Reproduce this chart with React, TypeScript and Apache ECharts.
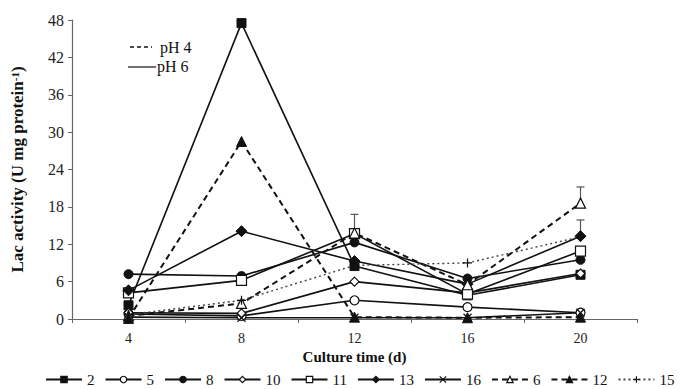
import React, { useEffect, useRef } from "react";
import * as echarts from "echarts";

const days = ["4", "8", "12", "16", "20"];
const yTicks = [0, 6, 12, 18, 24, 30, 36, 42, 48];

const s2 = [2.2, 47.5, 8.5, 3.8, 7.1];
const s5 = [0.8, 0.5, 3.0, 1.9, 1.0];
const s8 = [7.2, 6.9, 12.3, 6.5, 9.5];
const s10 = [1.0, 0.9, 6.0, 4.2, 7.3];
const s11 = [4.2, 6.2, 13.7, 4.0, 10.9];
const s13 = [4.6, 14.1, 9.3, 5.6, 13.3];
const s16 = [0.3, 0.2, 0.2, 0.2, 1.0];
const s6 = [0.5, 2.5, 13.8, 5.5, 18.6];
const s12 = [0.1, 28.5, 0.3, 0.2, 0.3];
const s15 = [0.7, 3.0, 8.6, 9.0, 13.2];

// error bar sizes per category
const err6 = [0, 0, 3.0, 0, 2.6];
const err13 = [0, 0, 0, 0, 2.6];

const FONT = "Liberation Serif";
const BLACK = "#111";

export default function App() {
  const ref = useRef<HTMLDivElement>(null);
  useEffect(() => {
    if (!ref.current) return;
    const chart = echarts.init(ref.current, null, { renderer: "svg" });

    const mk = (
      name: string,
      data: number[],
      symbol: string,
      size: number,
      lineType: any,
      filled: boolean,
      width = 1.6
    ) => ({
      name,
      type: "line",
      data,
      symbol,
      symbolSize: size,
      showSymbol: true,
      lineStyle: { color: BLACK, width, type: lineType },
      itemStyle: filled
        ? { color: BLACK, borderColor: BLACK, borderWidth: 1 }
        : { color: "#fff", borderColor: BLACK, borderWidth: 1.2 },
      z: 3,
    });

    const crossPath = "path://M0,0L10,10M10,0L0,10";
    const plusPath = "path://M5,0L5,10M0,5L10,5";

    const errData: number[][] = [];
    err6.forEach((e, i) => {
      if (e > 0) errData.push([i, s6[i], s6[i] + e]);
    });
    err13.forEach((e, i) => {
      if (e > 0) errData.push([i, s13[i], s13[i] + e]);
    });

    const series: any[] = [
      mk("2", s2, "rect", 9, "solid", true),
      mk("5", s5, "circle", 9, "solid", false),
      mk("8", s8, "circle", 9, "solid", true),
      mk("10", s10, "diamond", 9, "solid", false),
      mk("11", s11, "rect", 10, "solid", false),
      mk("13", s13, "diamond", 11, "solid", true),
      {
        ...mk("16", s16, crossPath, 8, "solid", false),
        itemStyle: { color: "transparent", borderColor: BLACK, borderWidth: 1.2 },
      },
      mk("6", s6, "triangle", 10, [6, 4], false, 2),
      mk("12", s12, "triangle", 10, [6, 4], true, 2),
      {
        ...mk("15", s15, plusPath, 9, [2, 3], false, 1.4),
        lineStyle: { color: "#444", width: 1.4, type: [2, 3] },
        itemStyle: { color: "transparent", borderColor: BLACK, borderWidth: 1.2 },
      },
      {
        type: "custom",
        name: "err",
        data: errData,
        z: 2,
        renderItem: (params: any, api: any) => {
          const x = api.value(0);
          const lo = api.coord([x, api.value(1)]);
          const hi = api.coord([x, api.value(2)]);
          const style = { stroke: "#555", lineWidth: 1.2 };
          return {
            type: "group",
            children: [
              { type: "line", shape: { x1: lo[0], y1: lo[1], x2: hi[0], y2: hi[1] }, style },
              { type: "line", shape: { x1: hi[0] - 4, y1: hi[1], x2: hi[0] + 4, y2: hi[1] }, style },
            ],
          };
        },
      },
    ];

    chart.setOption({
      animation: false,
      backgroundColor: "#fff",
      grid: { left: 72, right: 45, top: 20, bottom: 70, containLabel: false },
      xAxis: {
        type: "category",
        data: days,
        boundaryGap: true,
        name: "Culture time (d)",
        nameLocation: "middle",
        nameGap: 28,
        nameTextStyle: { fontFamily: FONT, fontSize: 15, fontWeight: "bold", color: BLACK },
        axisLine: { lineStyle: { color: "#666", width: 1.2 } },
        axisTick: { show: true, inside: false, length: 4, lineStyle: { color: "#666" } },
        axisLabel: { fontFamily: FONT, fontSize: 14, color: "#222", margin: 12 },
        splitLine: { show: false },
      },
      yAxis: {
        type: "value",
        min: 0,
        max: 48,
        interval: 6,
        name: "{a|Lac activity (U mg protein}{s|-1}{a|)}",
        nameLocation: "middle",
        nameRotate: 90,
        nameGap: 46,
        nameTextStyle: {
          rich: {
            a: { fontFamily: FONT, fontSize: 17, fontWeight: "bold", color: BLACK },
            s: { fontFamily: FONT, fontSize: 11, fontWeight: "bold", color: BLACK, verticalAlign: "top", lineHeight: 11 },
          },
        },
        axisLine: { show: true, lineStyle: { color: "#666", width: 1.2 } },
        axisTick: { show: true, length: 4, lineStyle: { color: "#666" } },
        axisLabel: {
          fontFamily: FONT,
          fontSize: 16,
          color: "#222",
          margin: 8,
          formatter: (v: number) => (yTicks.includes(v) ? String(v) : ""),
        },
        splitLine: { show: false },
      },
      legend: {
        data: ["2", "5", "8", "10", "11", "13", "16", "6", "12", "15"],
        left: 40,
        bottom: 0,
        padding: [2, 5],
        itemWidth: 36,
        itemHeight: 8,
        itemGap: 10,
        itemStyle: { borderColor: BLACK, borderWidth: 1.2 },
        textStyle: { fontFamily: FONT, fontSize: 15, color: BLACK },
      },
      graphic: [
        { type: "line", shape: { x1: 130, y1: 47, x2: 152, y2: 47 }, style: { stroke: BLACK, lineWidth: 1.6, lineDash: [4, 3] } },
        { type: "text", x: 160, y: 47, style: { text: "pH 4", font: `16px "${FONT}"`, fill: BLACK, verticalAlign: "middle" } },
        { type: "line", shape: { x1: 128, y1: 67, x2: 156, y2: 67 }, style: { stroke: BLACK, lineWidth: 1.2 } },
        { type: "text", x: 157, y: 66, style: { text: "pH 6", font: `16px "${FONT}"`, fill: BLACK, verticalAlign: "middle" } },
      ],
      series,
    });
    return () => chart.dispose();
  }, []);
  return <div ref={ref} style={{ position: "absolute", left: 0, top: 0, width: 682, height: 389 }} />;
}
